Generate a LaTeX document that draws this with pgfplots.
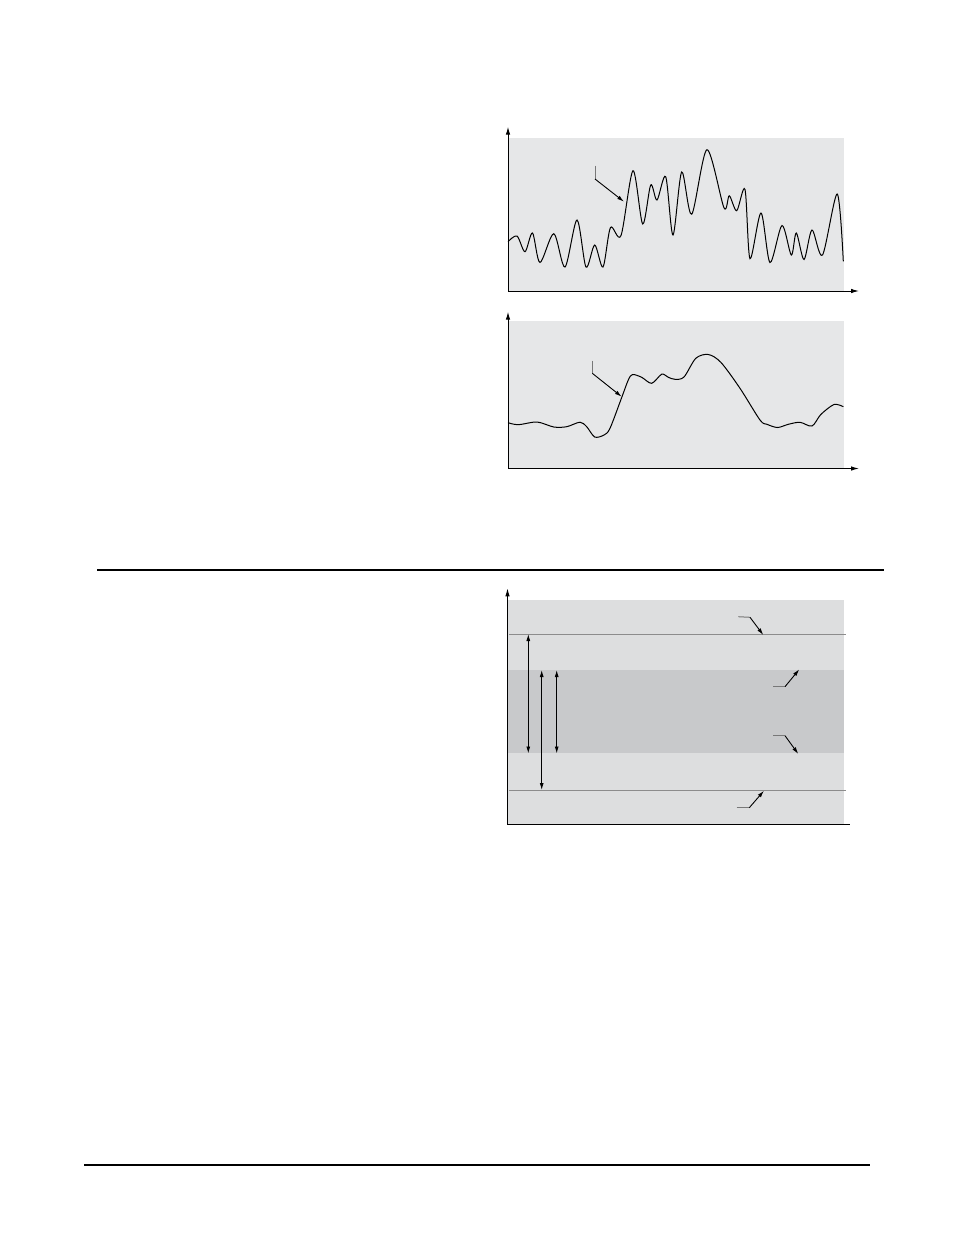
\documentclass[border=0pt]{standalone}
\usepackage{pgfplots}
\pgfplotsset{compat=1.18}
\usetikzlibrary{arrows.meta}

\definecolor{panelgray}{RGB}{230,231,232}
\definecolor{bandlight}{RGB}{221,222,223}
\definecolor{banddark}{RGB}{200,201,203}
\definecolor{levelline}{RGB}{140,140,140}
\definecolor{tailgray}{RGB}{120,120,120}

\pgfplotsset{
  panel/.style={scale only axis, hide axis, clip=false, anchor=south west,
    width=336pt, xmin=0, xmax=336, ymin=0},
}
\tikzset{
  axarrow/.style={line width=1pt, {Latex[length=8pt,width=4.5pt]}-{Latex[length=8pt,width=4.5pt]}},
  leader/.style={line width=0.9pt, -{Latex[length=7pt,width=4pt]}},
  tail/.style={tailgray, line width=1pt},
  dbl/.style={line width=0.9pt, {Latex[length=7pt,width=4pt]}-{Latex[length=7pt,width=4pt]}},
}

\begin{document}
\begin{tikzpicture}
\path[use as bounding box] (0,0) rectangle (954pt,-1235pt);

% --- panel 1: fast fluctuating signal
\begin{axis}[panel, at={(508pt,-291pt)}, height=153.3pt, ymax=153.3,
  axis background/.style={fill=panelgray}]
\addplot[black, line width=1pt, smooth, tension=0.5] coordinates {
(0,49.3) (9,55) (17,39.3) (24.5,58) (32,28.5) (45.8,57.3) (57,24)
(69,71) (78,24) (86.7,46) (95,24) (102.5,63.5) (113,55.5) (125,120.3)
(134.7,67) (142.7,106) (149,91) (157.7,114.3) (165,56) (173.7,119)
(183.7,76.8) (199,141.3) (216,83.2) (221.3,95.2) (228.7,80.3) (237,101.5)
(242,32.3) (253,78) (262,28.5) (274,65.5) (283.3,36) (288.3,58)
(296,31.5) (304,61) (314.5,36) (329.2,97) (335.3,29.7)
};
\draw[axarrow] (axis cs:0,164.3) -- (axis cs:0,0) -- (axis cs:351,0);
\draw[tail] (axis cs:87,125.3) -- (axis cs:87,112);
\draw[leader] (axis cs:87,112) -- (axis cs:116,89.3);
\end{axis}

% --- panel 2: smoothed signal
\begin{axis}[panel, at={(508pt,-468.5pt)}, height=148pt, ymax=148,
  axis background/.style={fill=panelgray}]
\addplot[black, line width=1pt, smooth, tension=0.5] coordinates {
(0,45.8) (10.3,43.8) (29,46.5) (45.8,41.5) (58.7,41.8) (72,46.3)
(78.7,41.8) (86.7,31.5) (96,33.5) (102,40.2) (113.7,71) (120.3,88.5)
(124.5,94) (133.7,91.2) (143.7,85.2) (153.7,94.3) (160.3,91.2)
(167,89.2) (176,91.5) (187.8,110.2) (200.3,114) (213,106) (232,80.2)
(252,48.5) (259,44.2) (269.5,41) (280.3,44.2) (292,46.2) (304,42.5)
(312.8,54) (326,64) (335.3,61.8)
};
\draw[axarrow] (axis cs:0,156.8) -- (axis cs:0,0) -- (axis cs:351,0);
\draw[tail] (axis cs:84.3,107.8) -- (axis cs:84.3,95.2);
\draw[leader] (axis cs:84.3,95.2) -- (axis cs:113.7,71.8);
\end{axis}

% --- panel 3: bands and limits
\begin{axis}[panel, at={(507.5pt,-824.5pt)}, height=224.5pt, ymax=224.5,
  axis background/.style={fill=bandlight}]
\addplot[draw=none, fill=banddark] coordinates {(0,71.2) (336,71.2) (336,154.5) (0,154.5)} -- cycle;
\addplot[levelline, line width=0.8pt] coordinates {(1.5,190.5) (338,190.5)};
\addplot[levelline, line width=0.8pt] coordinates {(1.5,34.5) (338,34.5)};
\draw[{Latex[length=8pt,width=4.5pt]}-, line width=1pt]
  (axis cs:0,236.2) -- (axis cs:0,0) -- (axis cs:342.5,0);
\draw[dbl] (axis cs:20.8,190.5) -- (axis cs:20.8,71);
\draw[dbl] (axis cs:34.2,154.5) -- (axis cs:34.2,34.5);
\draw[dbl] (axis cs:49.2,154.5) -- (axis cs:49.2,71);
% callouts
\draw[tail] (axis cs:230.8,207.8) -- (axis cs:242.5,207.2);
\draw[leader] (axis cs:242.5,207.2) -- (axis cs:255.8,189.5);
\draw[tail] (axis cs:265.8,137.8) -- (axis cs:277.5,137.8);
\draw[leader] (axis cs:277.5,137.8) -- (axis cs:291.8,155.2);
\draw[tail] (axis cs:265.8,88.8) -- (axis cs:277.5,88.8);
\draw[leader] (axis cs:277.5,88.8) -- (axis cs:290.8,70.5);
\draw[tail] (axis cs:229.2,16.8) -- (axis cs:241.8,16.8);
\draw[leader] (axis cs:241.8,16.8) -- (axis cs:256.5,33.8);
\end{axis}

% page rules
\draw[line width=1.5pt] (97pt,-570pt) -- (884pt,-570pt);
\draw[line width=1.5pt] (84pt,-1165pt) -- (870pt,-1165pt);
\end{tikzpicture}
\end{document}
